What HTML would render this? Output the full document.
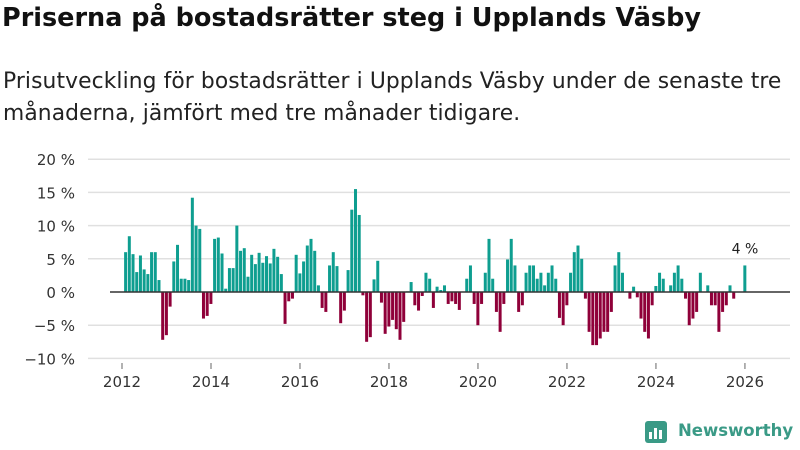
<!DOCTYPE html>
<html><head><meta charset="utf-8"><style>
body{margin:0;width:800px;height:450px;background:#fff;font-family:"DejaVu Sans",sans-serif;color:#222;overflow:hidden;position:relative}
h1{position:absolute;left:2px;top:3px;margin:0;font-size:25.5px;font-weight:bold;color:#111;white-space:nowrap}
.sub{position:absolute;left:3px;top:66px;margin:0;font-size:21.8px;line-height:32px;color:#222;width:797px;letter-spacing:0.1px}
svg{position:absolute;left:0;top:0}
.logo{position:absolute;left:645px;top:421px;font-size:16.5px;font-weight:bold;color:#3a9a86;white-space:nowrap}
</style></head><body>
<h1>Priserna på bostadsrätter steg i Upplands Väsby</h1>
<p class="sub">Prisutveckling för bostadsrätter i Upplands Väsby under de senaste tre månaderna, jämfört med tre månader tidigare.</p>
<svg id="chart" width="800" height="450"></svg>
<div class="logo"><svg width="24" height="24" style="position:absolute;left:0;top:0"><rect x="0" y="0" width="22" height="22" rx="3" fill="#3a9a86"/><rect x="4" y="11" width="3" height="7" fill="#fff"/><rect x="9" y="7" width="3" height="11" fill="#fff"/><rect x="14" y="9" width="3" height="9" fill="#fff"/></svg><span style="margin-left:33px">Newsworthy</span></div>
<script>
const values=[6.0,8.4,5.7,3.0,5.5,3.4,2.7,6.0,6.0,1.8,-7.2,-6.5,-2.2,4.6,7.1,2.0,2.0,1.8,14.2,10.0,9.5,-4.0,-3.6,-1.8,8.0,8.2,5.8,0.5,3.6,3.6,10.0,6.2,6.6,2.3,5.6,4.2,5.9,4.4,5.4,4.3,6.5,5.3,2.7,-4.8,-1.4,-1.0,5.6,2.8,4.6,7.0,8.0,6.2,1.0,
-2.4,-3.0,4.0,6.0,3.9,-4.7,-2.8,3.3,12.4,15.5,11.6,-0.5,-7.5,-6.8,1.9,4.7,-1.6,-6.3,-5.2,-4.2,-5.6,-7.2,-4.5,0.1,1.5,-2.0,-2.8,-0.6,2.9,2.0,-2.4,0.8,0.3,1.0,-1.8,-1.4,-1.8,-2.7,0,2.0,4.0,-1.8,-5.0,-1.8,2.9,8.0,2.0,-3.0,-6.0,-1.8,4.9,8.0,4.0,-3.0,-2.0,2.9,4.0,4.0,2.0,2.9,
1.0,2.9,4.0,2.0,-3.9,-5.0,-2.0,2.9,6.0,7.0,5.0,-1.0,-6.0,-8.0,-8.0,-7.0,-6.0,-6.0,-3.0,4.0,6.0,2.9,0,-1.0,0.8,-0.8,-4.0,-6.0,-7.0,-2.0,0.9,2.9,2.0,0,1.0,2.9,4.0,2.0,-1.0,-5.0,-4.0,-3.0,2.9,0,1.0,-2.0,-2.0,-6.0,-3.0,-2.0,1.0,-1.0,0,0,4.0];
const yTicks=[-10,-5,0,5,10,15,20];
const yTickLabels=["−10 %","−5 %","0 %","5 %","10 %","15 %","20 %"];
const xYears=[2012,2014,2016,2018,2020,2022,2024,2026];
const startYear=2012;
const lastLabel="4 %";
const NS="http://www.w3.org/2000/svg";
const svg=document.getElementById('chart');
function y(v){return 292-v*6.64;}
function x(m){return 122+m*3.708;}
function mk(t,a){const e=document.createElementNS(NS,t);for(const k in a)e.setAttribute(k,a[k]);svg.appendChild(e);return e;}
yTicks.forEach((t,i)=>{
 if(t!==0){const g=mk('line',{x1:88,x2:790,y1:y(t),y2:y(t),stroke:'#e0e0e0','stroke-width':1.5});
 
 }
 const l=mk('text',{x:75,y:y(t)+6,'text-anchor':'end','font-size':15,fill:'#333','font-family':'DejaVu Sans, sans-serif'});
 l.textContent=yTickLabels[i];
 
 
});
xYears.forEach(yr=>{
 const px=x((yr-startYear)*12);
 const tk=mk('line',{x1:px,x2:px,y1:363,y2:369,stroke:'#666','stroke-width':1});
 
 
 const l=mk('text',{x:px,y:387,'text-anchor':'middle','font-size':15,fill:'#333','font-family':'DejaVu Sans, sans-serif'});
 l.textContent=yr;
 
 
});
values.forEach((v,i)=>{
 const cx=x(i+1);
 const r=mk('rect',{x:cx-1.6,width:3,y:Math.min(y(v),y(0)),height:Math.abs(y(v)-y(0)),fill:v>=0?'#0e9e90':'#8f0039'});
 
 
});
const z=mk('line',{x1:110,x2:790,y1:y(0),y2:y(0),stroke:'#333','stroke-width':1.5});


const lv=values[values.length-1];
const lab=mk('text',{x:x(values.length),y:y(lv)-12,'text-anchor':'middle','font-size':14,fill:'#222','font-family':'DejaVu Sans, sans-serif'});
lab.textContent=lastLabel;


</script>
</body></html>
